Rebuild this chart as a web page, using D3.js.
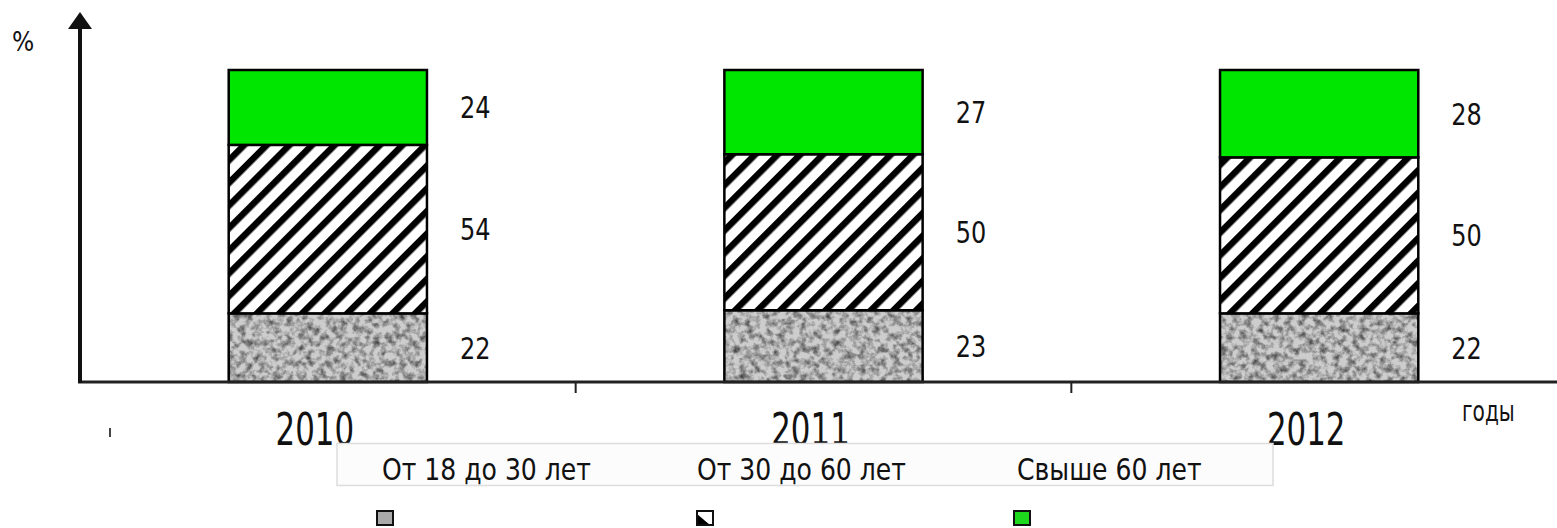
<!DOCTYPE html>
<html>
<head>
<meta charset="utf-8">
<script src="https://cdn.jsdelivr.net/npm/d3@7/dist/d3.min.js"></script>
<style>
  html, body { margin: 0; padding: 0; background: #fff; }
  svg { display: block; }
  text { font-family: "DejaVu Sans Condensed", "Liberation Sans", sans-serif; fill: #111; }
</style>
</head>
<body>
<svg id="chart" width="1557" height="528"></svg>
<script>
// Age structure by year, percent
const years = ["2010", "2011", "2012"];
const seriesNames = ["От 18 до 30 лет", "От 30 до 60 лет", "Свыше 60 лет"];
const age18to30 = [22, 23, 22];
const age30to60 = [54, 50, 50];
const age60plus = [24, 27, 28];
const yMax = 100;

const svg = d3.select("#chart");
const defs = svg.append("defs");

// granite-like grey texture
const granite = defs.append("filter").attr("id", "granite")
  .attr("x", 0).attr("y", 0).attr("width", 1).attr("height", 1);
granite.append("feTurbulence").attr("type", "fractalNoise")
  .attr("baseFrequency", 0.15).attr("numOctaves", 3).attr("seed", 7).attr("result", "noise");
granite.append("feColorMatrix").attr("in", "noise").attr("type", "matrix")
  .attr("values", "0 0 0 0 0  0 0 0 0 0  0 0 0 0 0  -1.3 0 0 0 0.8").attr("result", "spots");
granite.append("feGaussianBlur").attr("in", "spots").attr("stdDeviation", 0.7).attr("result", "soft");
granite.append("feComposite").attr("in", "soft").attr("in2", "SourceGraphic").attr("operator", "in");

// diagonal hatching
const hatch = defs.append("pattern").attr("id", "hatch")
  .attr("patternUnits", "userSpaceOnUse").attr("width", 16).attr("height", 16)
  .attr("patternTransform", "rotate(45)");
hatch.append("rect").attr("width", 16).attr("height", 16).attr("fill", "#fff");
hatch.append("rect").attr("x", 0).attr("y", 0).attr("width", 6.5).attr("height", 16).attr("fill", "#000");

const x0 = 80, baseY = 382, topY = 70;
const x = d3.scaleBand().domain(years).range([x0, 1567]).padding(0);
const y = d3.scaleLinear().domain([0, yMax]).range([baseY, topY]);
const barW = x.bandwidth() * 0.4;

const series = [
  { name: seriesNames[0], values: age18to30, kind: "grey" },
  { name: seriesNames[1], values: age30to60, kind: "hatch" },
  { name: seriesNames[2], values: age60plus, kind: "green" }
];

const rows = years.map((yr, i) => {
  let acc = 0;
  return series.map(s => {
    const seg = { year: yr, kind: s.kind, v: s.values[i], y0: acc, y1: acc + s.values[i] };
    acc += s.values[i];
    return seg;
  });
}).flat();

const g = svg.append("g");

function drawFill(sel, kind) {
  sel.each(function(d) {
    const el = d3.select(this);
    const bx = x(d.year) + (x.bandwidth() - barW) / 2;
    const by = y(d.y1), bh = y(d.y0) - y(d.y1);
    if (kind === "grey") {
      el.append("rect").attr("x", bx).attr("y", by).attr("width", barW).attr("height", bh).attr("fill", "#cdcdcd");
      el.append("rect").attr("x", bx).attr("y", by).attr("width", barW).attr("height", bh)
        .attr("fill", "#5a5a5a").attr("filter", "url(#granite)");
    } else if (kind === "hatch") {
      el.append("rect").attr("x", bx).attr("y", by).attr("width", barW).attr("height", bh).attr("fill", "url(#hatch)");
    } else {
      el.append("rect").attr("x", bx).attr("y", by).attr("width", barW).attr("height", bh).attr("fill", "#00e600");
    }
    el.append("rect").attr("x", bx).attr("y", by).attr("width", barW).attr("height", bh)
      .attr("fill", "none").attr("stroke", "#000").attr("stroke-width", 2.5);
  });
}

series.forEach(s => {
  g.append("g").selectAll("g").data(rows.filter(r => r.kind === s.kind)).join("g")
    .call(sel => drawFill(sel, s.kind));
});

// narrow text helper: horizontal condensing
const squeeze = (sx) => (px, py) => `translate(${px},${py}) scale(${sx},1)`;

// value labels
g.append("g").selectAll("text").data(rows).join("text")
  .attr("transform", d => squeeze(0.86)(x(d.year) + (x.bandwidth() + barW) / 2 + 33, y((d.y0 + d.y1) / 2) + 11))
  .attr("font-size", 31)
  .text(d => d.v);

// axes
g.append("line").attr("x1", x0 - 2).attr("x2", 1557).attr("y1", baseY).attr("y2", baseY)
  .attr("stroke", "#222").attr("stroke-width", 3);
g.append("line").attr("x1", x0).attr("x2", x0).attr("y1", baseY + 1).attr("y2", 26)
  .attr("stroke", "#111").attr("stroke-width", 4);
g.append("path").attr("d", `M${x0 - 12},29 L${x0},12 L${x0 + 12},29 Z`).attr("fill", "#111");

// tick marks between categories
g.append("g").selectAll("line").data(years.slice(1)).join("line")
  .attr("x1", d => x(d)).attr("x2", d => x(d))
  .attr("y1", baseY).attr("y2", baseY + 11)
  .attr("stroke", "#222").attr("stroke-width", 2);
g.append("line").attr("x1", 110).attr("x2", 110).attr("y1", 428).attr("y2", 437)
  .attr("stroke", "#444").attr("stroke-width", 2);

// year labels
g.append("g").selectAll("text").data(years).join("text")
  .attr("transform", d => squeeze(0.78)(x(d) + x.bandwidth() / 2 - 13, 445))
  .attr("text-anchor", "middle")
  .attr("font-size", 44)
  .text(d => d);

g.append("text").attr("x", 12).attr("y", 51).attr("font-size", 26).text("%");
g.append("text").attr("transform", squeeze(0.8)(1462, 421)).attr("font-size", 28).text("годы");

// legend
const leg = svg.append("g");
leg.append("rect").attr("x", 337).attr("y", 443.5).attr("width", 936).attr("height", 42)
  .attr("fill", "#fcfcfc").attr("stroke", "#ddd").attr("stroke-width", 1.5);
const legX = [382, 697, 1017];
leg.selectAll("text").data(seriesNames).join("text")
  .attr("transform", (d, i) => squeeze(0.9)(legX[i], 480))
  .attr("font-size", 31)
  .text(d => d);

const swX = [377, 697, 1014];
const sw = leg.selectAll("g.sw").data(series).join("g").attr("class", "sw");
sw.each(function(s, i) {
  const el = d3.select(this);
  const sx = swX[i], sy = 511, sw2 = 16, sh = 14;
  if (s.kind === "grey") {
    el.append("rect").attr("x", sx).attr("y", sy).attr("width", sw2).attr("height", sh).attr("fill", "#aaa");
  } else if (s.kind === "hatch") {
    el.append("rect").attr("x", sx).attr("y", sy).attr("width", sw2).attr("height", sh).attr("fill", "#fff");
    el.append("path").attr("d", `M${sx},${sy + sh} L${sx},${sy + 3} L${sx + sw2 - 3},${sy + sh} Z`).attr("fill", "#000");
  } else {
    el.append("rect").attr("x", sx).attr("y", sy).attr("width", sw2).attr("height", sh).attr("fill", "#1ed81e");
  }
  el.append("rect").attr("x", sx).attr("y", sy).attr("width", sw2).attr("height", sh)
    .attr("fill", "none").attr("stroke", "#111").attr("stroke-width", 2);
});
</script>
</body>
</html>
